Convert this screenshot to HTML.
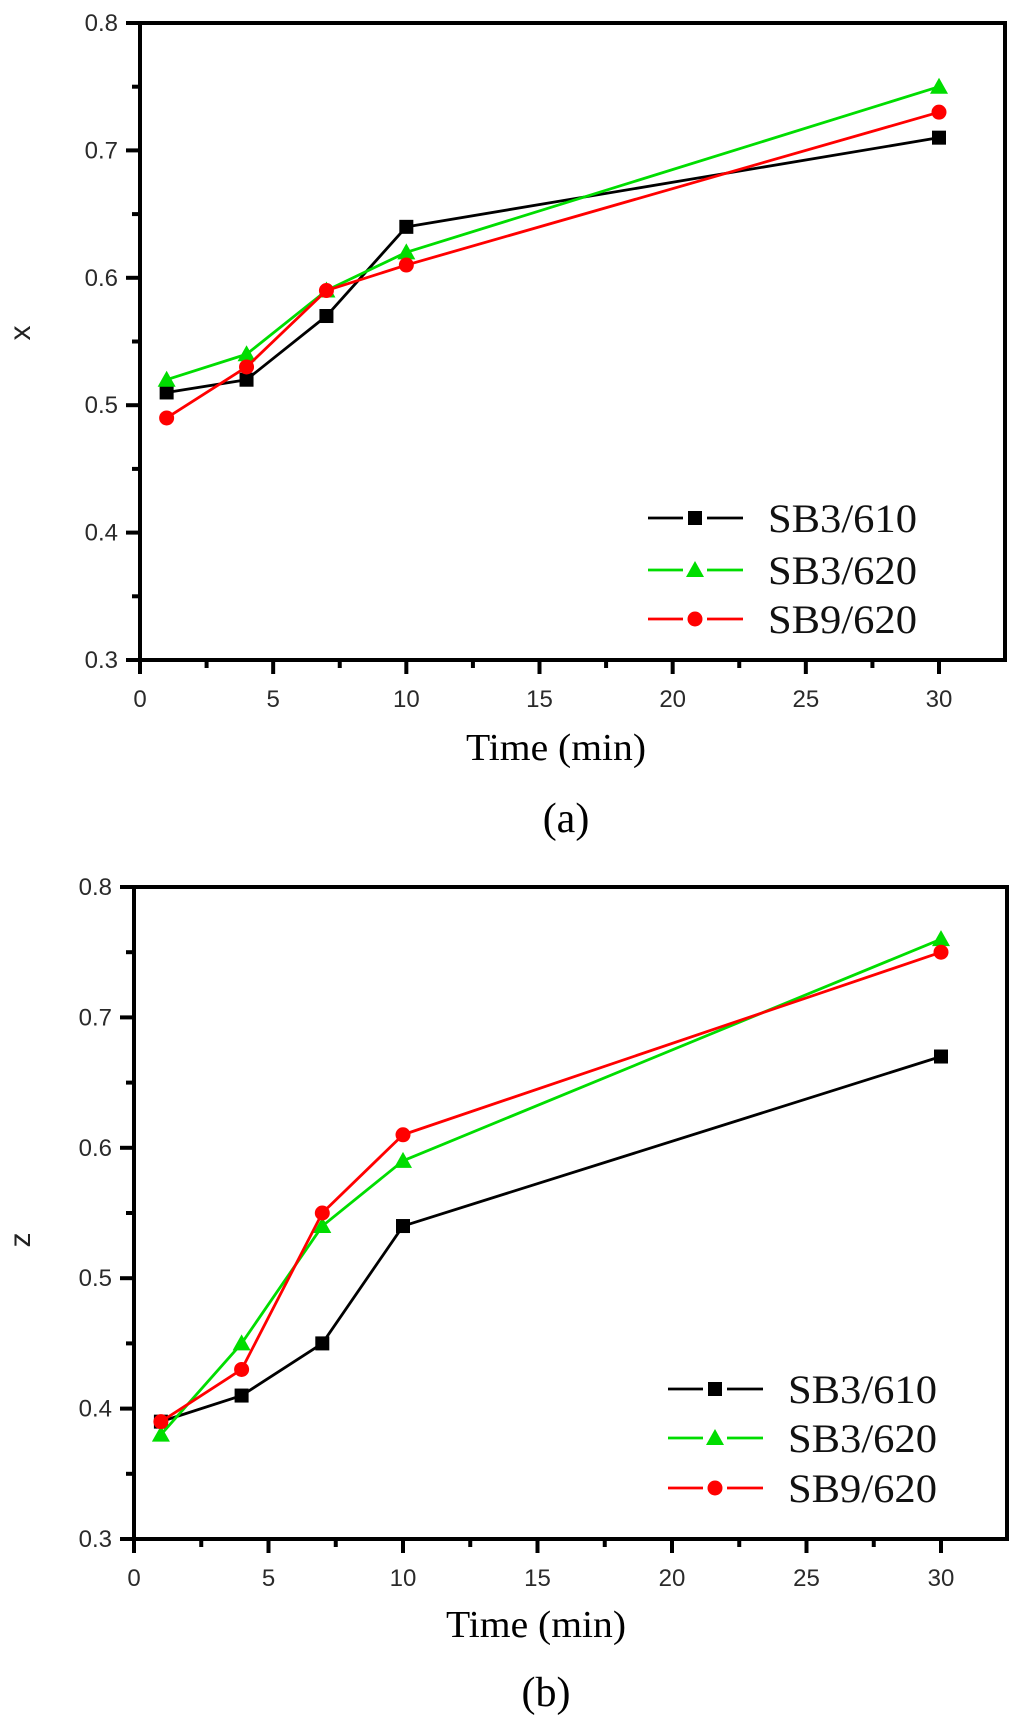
<!DOCTYPE html>
<html>
<head>
<meta charset="utf-8">
<style>
html,body{margin:0;padding:0;background:#fff;}
svg{display:block;}
</style>
</head>
<body>
<svg id="fig" width="1024" height="1719" viewBox="0 0 1024 1719" xmlns="http://www.w3.org/2000/svg"></svg>
<script>
const xValues = [1, 4, 7, 10, 30];
const seriesNames = ["SB3/610", "SB3/620", "SB9/620"];
const xSB3_610 = [0.51, 0.52, 0.57, 0.64, 0.71];
const xSB3_620 = [0.52, 0.54, 0.59, 0.62, 0.75];
const xSB9_620 = [0.49, 0.53, 0.59, 0.61, 0.73];
const zSB3_610 = [0.39, 0.41, 0.45, 0.54, 0.67];
const zSB3_620 = [0.38, 0.45, 0.54, 0.59, 0.76];
const zSB9_620 = [0.39, 0.43, 0.55, 0.61, 0.75];
const xTicks = [0, 5, 10, 15, 20, 25, 30];
const yTicks = [0.3, 0.4, 0.5, 0.6, 0.7, 0.8];

const NS = "http://www.w3.org/2000/svg";
const svg = document.getElementById("fig");
const colors = ["#000000", "#00dd00", "#ff0000"];
const markers = ["square", "triangle", "circle"];

function mk(tag, attrs, parent) {
  const e = document.createElementNS(NS, tag);
  for (const k in attrs) e.setAttribute(k, attrs[k]);
  parent.appendChild(e);
  return e;
}

function drawMarker(g, type, cx, cy, color) {
  let m;
  if (type === "square") {
    m = mk("rect", {x: cx - 7, y: cy - 7, width: 14, height: 14, fill: color}, g);
  } else if (type === "triangle") {
    m = mk("polygon", {points: `${cx},${cy - 9} ${cx + 9},${cy + 7} ${cx - 9},${cy + 7}`, fill: color}, g);
  } else {
    m = mk("circle", {cx: cx, cy: cy, r: 7.5, fill: color}, g);
  }
  return m;
}

function drawChart(cfg) {
  const g = mk("g", {}, svg);
  
  
  const sx = v => cfg.x0 + (v - 0) / 30 * (cfg.x30 - cfg.x0);
  const sy = v => cfg.bottom - (v - 0.3) / 0.5 * (cfg.bottom - cfg.top);

  cfg.series.forEach((vals, i) => {
    const sg = mk("g", {}, g);
    
    
    const pts = vals.map((v, j) => sx(xValues[j]) + "," + sy(v)).join(" ");
    const pl = mk("polyline", {points: pts, fill: "none", stroke: colors[i], "stroke-width": 2.8, "stroke-linejoin": "round"}, sg);
    
    
    vals.forEach((v, j) => {
      const m = drawMarker(sg, markers[i], sx(xValues[j]), sy(v), colors[i]);
      
      
    });
  });

  const fr = mk("rect", {x: cfg.left, y: cfg.top, width: cfg.right - cfg.left, height: cfg.bottom - cfg.top, fill: "none", stroke: "#000", "stroke-width": 4}, g);
  
  

  yTicks.forEach((t, k) => {
    const y = sy(t);
    const tk = mk("line", {x1: cfg.left - 14, x2: cfg.left, y1: y, y2: y, stroke: "#000", "stroke-width": 4}, g);
    
    
    if (k < yTicks.length - 1) {
      const ym = sy(t + 0.05);
      const mt = mk("line", {x1: cfg.left - 8, x2: cfg.left, y1: ym, y2: ym, stroke: "#000", "stroke-width": 4}, g);
      
      
    }
    const lb = mk("text", {x: cfg.left - 22, y: y + 8, "text-anchor": "end", "font-family": "Liberation Sans, sans-serif", "font-size": 24, fill: "#2a2a2a"}, g);
    lb.textContent = t.toFixed(1);
    
    
  });
  xTicks.forEach((t, k) => {
    const x = sx(t);
    const tk = mk("line", {x1: x, x2: x, y1: cfg.bottom, y2: cfg.bottom + 14, stroke: "#000", "stroke-width": 4}, g);
    
    
    if (k < xTicks.length - 1) {
      const xm = sx(t + 2.5);
      const mt = mk("line", {x1: xm, x2: xm, y1: cfg.bottom, y2: cfg.bottom + 8, stroke: "#000", "stroke-width": 4}, g);
      
      
    }
    const lb = mk("text", {x: x, y: cfg.bottom + 47, "text-anchor": "middle", "font-family": "Liberation Sans, sans-serif", "font-size": 24, fill: "#2a2a2a"}, g);
    lb.textContent = String(t);
    
    
  });

  const xt = mk("text", {x: cfg.xTitleX, y: cfg.xTitleY, "text-anchor": "middle", "font-family": "Liberation Serif, serif", "font-size": 38, fill: "#000", textLength: 180, lengthAdjust: "spacingAndGlyphs"}, g);
  xt.textContent = "Time (min)";
  
  

  const yt = mk("text", {x: 0, y: 0, "text-anchor": "middle", "font-family": "Liberation Sans, sans-serif", "font-size": 30, fill: "#222", transform: `translate(${cfg.yTitleX},${cfg.yTitleY}) rotate(-90)`}, g);
  yt.textContent = cfg.yLabel;
  
  

  const cap = mk("text", {x: cfg.capX, y: cfg.capY, "text-anchor": "middle", "font-family": "Liberation Serif, serif", "font-size": 42, fill: "#000"}, g);
  cap.textContent = cfg.caption;
  
  

  const lg = mk("g", {}, g);
  
  
  seriesNames.forEach((n, i) => {
    const y = cfg.legY[i];
    const e = mk("g", {}, lg);
    
    
    mk("line", {x1: cfg.legX, x2: cfg.legX + 35, y1: y, y2: y, stroke: colors[i], "stroke-width": 2.8}, e);
    mk("line", {x1: cfg.legX + 59, x2: cfg.legX + 95, y1: y, y2: y, stroke: colors[i], "stroke-width": 2.8}, e);
    drawMarker(e, markers[i], cfg.legX + 47, y, colors[i]);
    const t = mk("text", {x: cfg.legX + 120, y: y + 14, "font-family": "Liberation Serif, serif", "font-size": 40, fill: "#111", textLength: 149, lengthAdjust: "spacingAndGlyphs"}, e);
    t.textContent = n;
  });
}

drawChart({
  name: "chart-a", left: 140, right: 1005, top: 23, bottom: 660, x0: 140, x30: 939,
  series: [xSB3_610, xSB3_620, xSB9_620], yLabel: "x", caption: "(a)",
  xTitleX: 556, xTitleY: 760, yTitleX: 30, yTitleY: 333, capX: 566, capY: 832,
  legX: 648, legY: [518, 570, 619]
});
drawChart({
  name: "chart-b", left: 134, right: 1007, top: 887, bottom: 1539, x0: 134, x30: 941,
  series: [zSB3_610, zSB3_620, zSB9_620], yLabel: "z", caption: "(b)",
  xTitleX: 536, xTitleY: 1637, yTitleX: 30, yTitleY: 1240, capX: 546, capY: 1706,
  legX: 668, legY: [1389, 1438, 1488]
});
</script>
</body>
</html>
